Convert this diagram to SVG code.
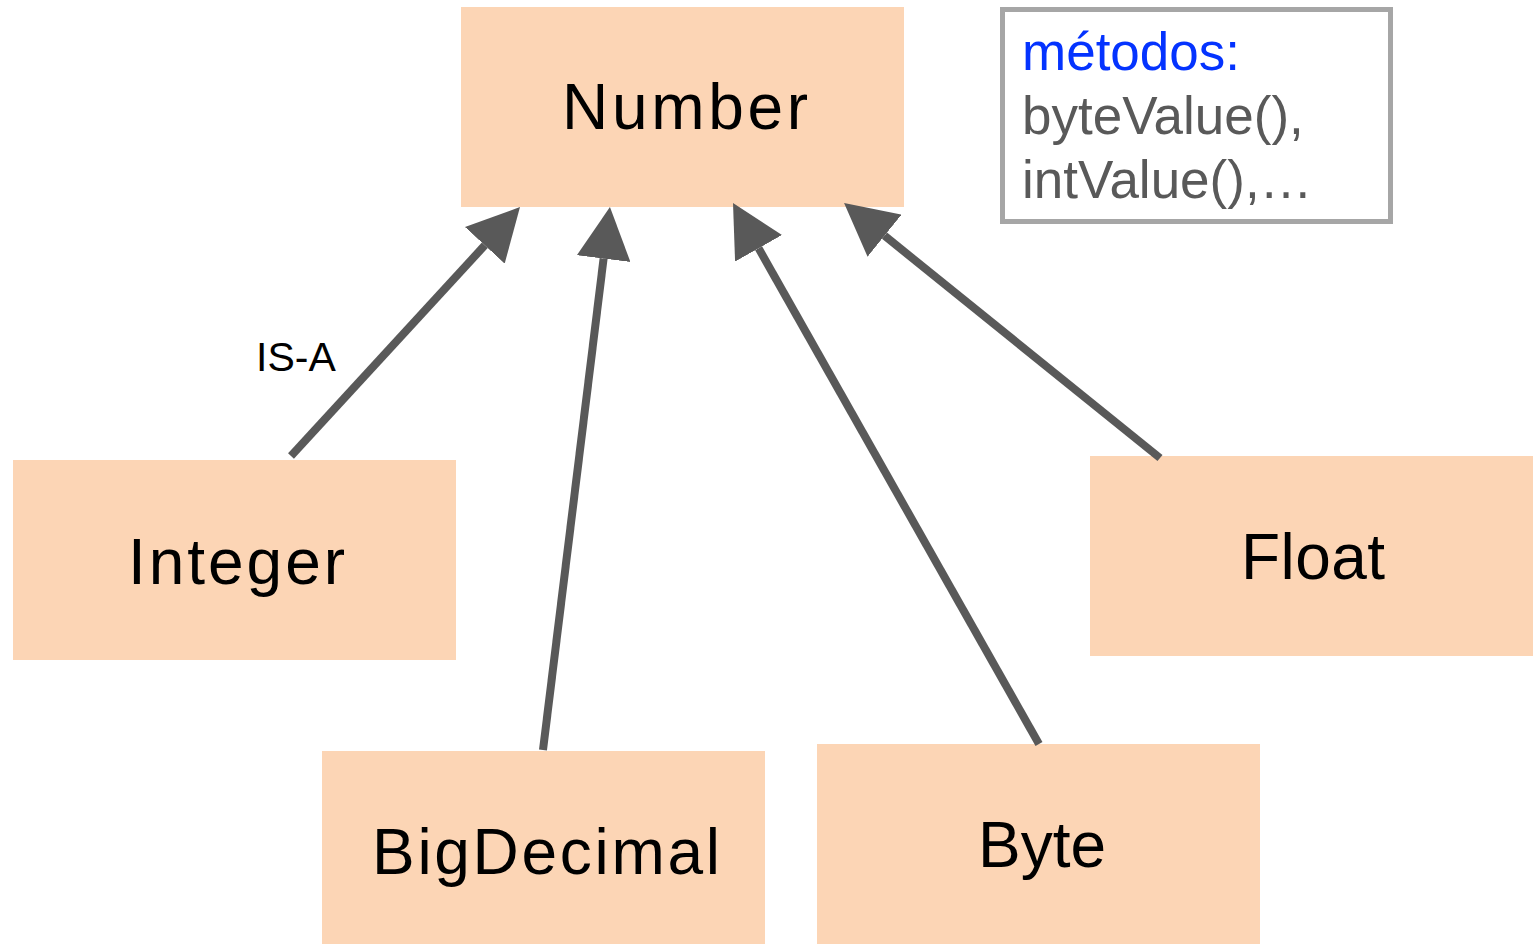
<svg xmlns="http://www.w3.org/2000/svg" width="1533" height="944" viewBox="0 0 1533 944">
<style>
.node rect{fill:#fcd5b5}
.node text{font-family:"Liberation Sans",Arial,sans-serif;font-size:64px;fill:#000;text-anchor:middle}
.edge{stroke:#595959;stroke-width:8;fill:none;marker-end:url(#arrow)}
.lbl{font-family:"Liberation Sans",Arial,sans-serif;font-size:41px;fill:#000}
.note text{font-family:"Liberation Sans",Arial,sans-serif;font-size:53px}
</style>
<defs>
<marker id="arrow" markerUnits="userSpaceOnUse" viewBox="0 0 52 54" markerWidth="52" markerHeight="54" refX="0" refY="27" orient="auto">
<path d="M0,0 L52,27 L0,54 z" fill="#595959"/>
</marker>
</defs>
<rect width="1533" height="944" fill="#fff"/>
<g id="node-number" class="node"><rect x="461" y="7" width="443" height="200"/><text x="685" y="129" textLength="246" lengthAdjust="spacing">Number</text></g>
<g id="node-integer" class="node"><rect x="13" y="460" width="443" height="200"/><text x="236.5" y="584" textLength="217" lengthAdjust="spacing">Integer</text></g>
<g id="node-bigdecimal" class="node"><rect x="322" y="751" width="443" height="200"/><text x="546" y="874" textLength="348" lengthAdjust="spacing">BigDecimal</text></g>
<g id="node-byte" class="node"><rect x="817" y="744" width="443" height="200"/><text x="1042" y="867" textLength="128" lengthAdjust="spacing">Byte</text></g>
<g id="node-float" class="node"><rect x="1090" y="456" width="443" height="200"/><text x="1313" y="579" textLength="144" lengthAdjust="spacing">Float</text></g>
<g id="note" class="note">
<rect x="1002.5" y="9.5" width="388" height="212" fill="#fff" stroke="#a6a6a6" stroke-width="5"/>
<text x="1022" y="70" fill="#0433ff">métodos:</text>
<text x="1022" y="134" fill="#595959">byteValue(),</text>
<text x="1022" y="198" fill="#595959">intValue(),…</text>
</g>
<g id="connectors">
<line class="edge" x1="291" y1="456" x2="484.8" y2="245.3"/>
<line class="edge" x1="543" y1="750" x2="603.6" y2="258.6"/>
<line class="edge" x1="1039" y1="744" x2="758.6" y2="248.3"/>
<line class="edge" x1="1160" y1="458" x2="884.5" y2="235.7"/>
<text class="lbl" x="256" y="371">IS-A</text>
</g>
</svg>
